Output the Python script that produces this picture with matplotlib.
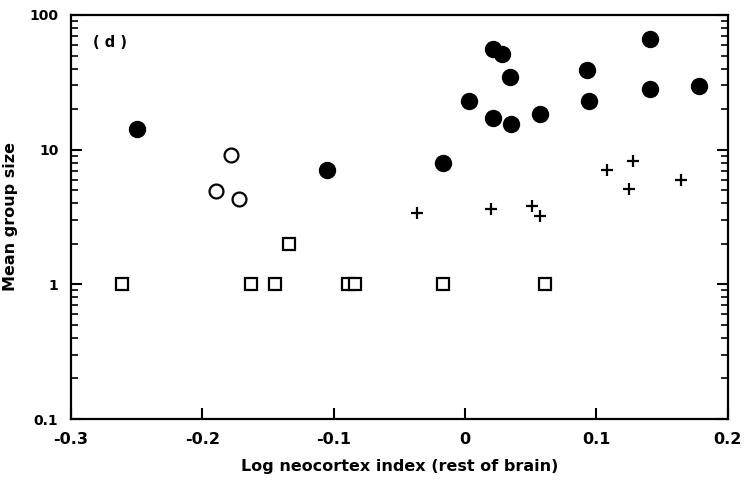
import numpy as np
import matplotlib
matplotlib.use("Agg")
import matplotlib.pyplot as plt
from matplotlib.ticker import LogLocator, NullFormatter, FixedLocator

# filled circles
filled_x = [-0.250, -0.105, -0.017, 0.003, 0.021, 0.028, 0.034, 0.021, 0.035,
            0.057, 0.093, 0.094, 0.141, 0.141, 0.178]
filled_y = [14.3, 7.1, 8.0, 22.9, 55.6, 51.3, 34.4, 17.1, 15.5,
            18.3, 39.1, 23.1, 66.0, 28.2, 29.7]

# open circles
open_x = [-0.178, -0.190, -0.172]
open_y = [9.1, 4.9, 4.3]

# crosses
plus_x = [-0.037, 0.020, 0.051, 0.057, 0.108, 0.128, 0.125, 0.164]
plus_y = [3.4, 3.6, 3.8, 3.2, 7.1, 8.2, 5.1, 6.0]

# squares
sq_x = [-0.261, -0.163, -0.145, -0.134, -0.089, -0.084, -0.017, 0.061]
sq_y = [1.0, 1.0, 1.0, 2.0, 1.0, 1.0, 1.0, 1.0]

plt.rcParams['font.family'] = ['DejaVu Sans']
fig = plt.figure(figsize=(7.45, 4.82), dpi=100)
ax = fig.add_axes([0.0953, 0.1307, 0.8817, 0.8382])

ax.plot(filled_x, filled_y, 'o', color='black', markersize=11.5, linestyle='none')
ax.plot(open_x, open_y, 'o', mfc='white', mec='black', mew=1.6, markersize=10, linestyle='none')
ax.plot(plus_x, plus_y, '+', color='black', mew=1.6, markersize=9, linestyle='none')
ax.plot(sq_x, sq_y, 's', mfc='white', mec='black', mew=1.6, markersize=9, linestyle='none')

ax.set_yscale('log')
ax.set_xlim(-0.3, 0.2)
ax.set_ylim(0.1, 100)

ax.xaxis.set_major_locator(FixedLocator([-0.3, -0.2, -0.1, 0, 0.1, 0.2]))
ax.set_xticklabels(['-0.3', '-0.2', '-0.1', '0', '0.1', '0.2'])
ax.yaxis.set_major_locator(FixedLocator([0.1, 1, 10, 100]))
ax.set_yticklabels(['0.1', '1', '10', '100'])
ax.yaxis.set_minor_locator(LogLocator(base=10, subs=np.arange(2, 10)))
ax.yaxis.set_minor_formatter(NullFormatter())

ax.tick_params(axis='both', which='major', direction='in', length=8, width=1.5,
               labelsize=10, pad=9)
ax.tick_params(axis='x', which='major', labelsize=11.5)
ax.tick_params(axis='y', which='major', right=True, length=8)
ax.tick_params(axis='y', which='minor', direction='in', length=5, width=1.2, right=True)
for lbl in ax.get_xticklabels() + ax.get_yticklabels():
    lbl.set_fontweight('bold')

for s in ax.spines.values():
    s.set_linewidth(1.6)

ax.text(0.033, 0.933, '( d )', transform=ax.transAxes, fontsize=10.5,
        fontweight='bold', va='center')
ax.set_xlabel('Log neocortex index (rest of brain)', fontsize=11.5, fontweight='bold', labelpad=9)
ax.set_ylabel('Mean group size', fontsize=11.5, fontweight='bold')
ax.yaxis.set_label_coords(-0.081, 0.5)

fig.savefig('out.png', dpi=100)
